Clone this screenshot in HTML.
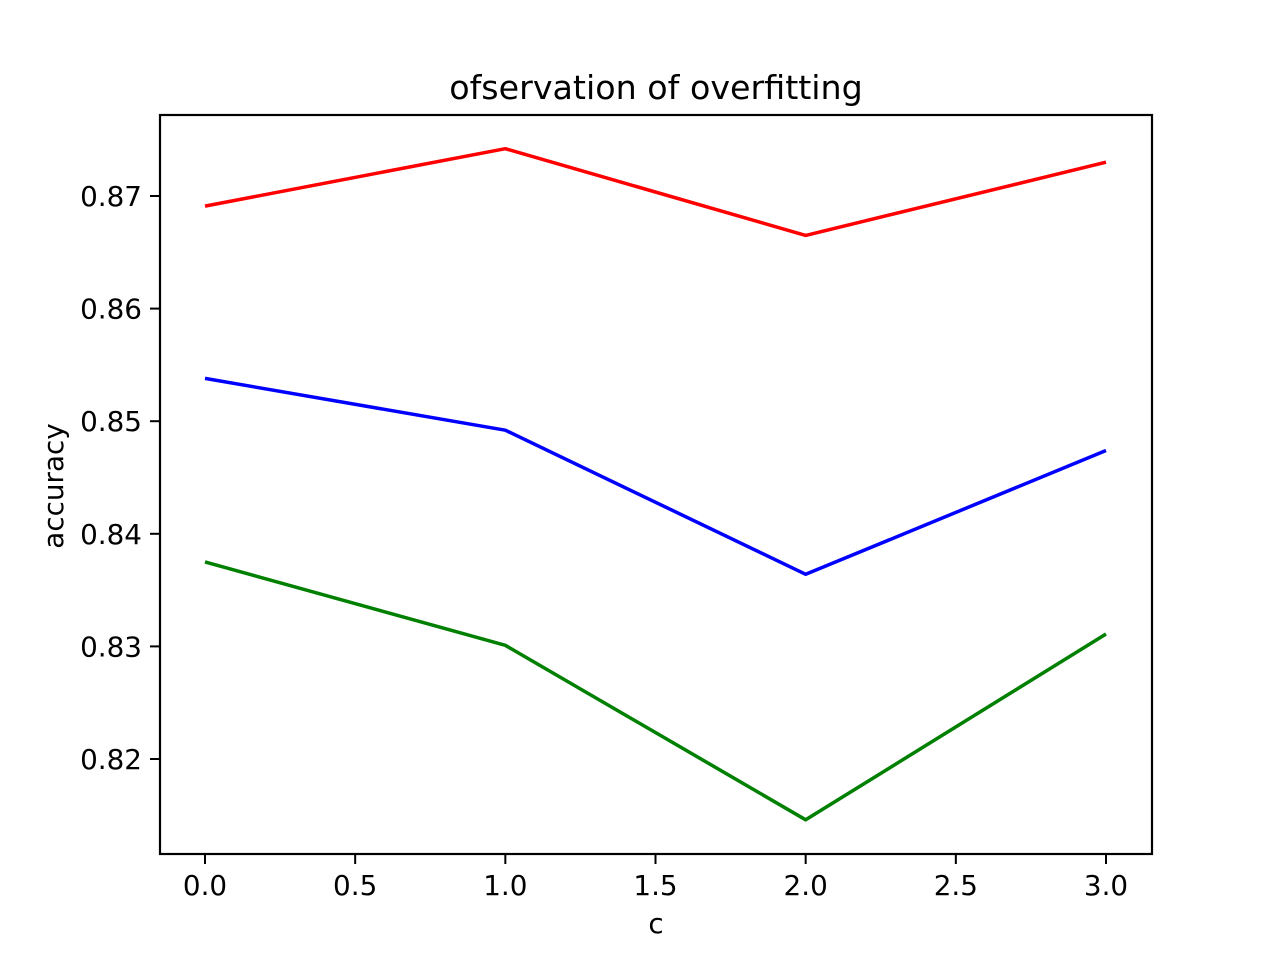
<!DOCTYPE html>
<html><head><meta charset="utf-8"><style>
html,body{margin:0;padding:0;background:#fff;}
svg{display:block;font-family:"DejaVu Sans","Liberation Sans",sans-serif;}
</style></head><body>
<svg id="chart" width="1280" height="960">
<rect width="1280" height="960" fill="#fff"/>
<text x="656" y="99" text-anchor="middle" font-size="33.3">ofservation of overfitting</text>
<text x="656" y="933" text-anchor="middle" font-size="27.8">c</text>
<text transform="translate(63,486) rotate(-90)" text-anchor="middle" font-size="27.8">accuracy</text>
<g id="plot"></g>
<g id="xticks"></g>
<g id="yticks"></g>
<rect x="160" y="115" width="992" height="739" fill="none" stroke="#000" stroke-width="2.2"/>
</svg>
<script>
const xValues = [0, 1, 2, 3];
const redSeries = [0.8691, 0.8742, 0.8665, 0.8730];
const blueSeries = [0.8538, 0.8492, 0.8364, 0.8474];
const greenSeries = [0.8375, 0.8301, 0.8146, 0.8311];
const xTickValues = [0, 0.5, 1, 1.5, 2, 2.5, 3];
const xTickLabels = ["0.0","0.5","1.0","1.5","2.0","2.5","3.0"];
const yTickValues = [0.82, 0.83, 0.84, 0.85, 0.86, 0.87];
const yTickLabels = ["0.82","0.83","0.84","0.85","0.86","0.87"];

const NS = "http://www.w3.org/2000/svg";
function xs(v){ return 205 + v * (1106 - 205) / 3; }
function ys(v){ return 759 - (v - 0.82) * (759 - 196) / 0.05; }
function mk(tag, attrs, parent){
  const e = document.createElementNS(NS, tag);
  for (const k in attrs) e.setAttribute(k, attrs[k]);
  parent.appendChild(e);
  return e;
}
const plot = document.getElementById('plot');
const series = [[redSeries, '#ff0000', 'series-red'], [blueSeries, '#0000ff', 'series-blue'], [greenSeries, '#008000', 'series-green']];
series.forEach(s => {
  const pts = s[0].map((v, i) => xs(xValues[i]).toFixed(1) + ',' + ys(v).toFixed(1)).join(' ');
  const pl = mk('polyline', {points: pts, fill: 'none', stroke: s[1], 'stroke-width': 3.5, 'stroke-linejoin': 'round'}, plot);
  
  
});
const xg = document.getElementById('xticks');
xTickValues.forEach((v, i) => {
  const x = xs(v);
  const l = mk('line', {x1: x, x2: x, y1: 854, y2: 864, stroke: '#000', 'stroke-width': 2}, xg);
  
  
  const t = mk('text', {x: x, y: 895, 'text-anchor': 'middle', 'font-size': 27.8}, xg);
  t.textContent = xTickLabels[i];
  
  
});
const yg = document.getElementById('yticks');
yTickValues.forEach((v, i) => {
  const y = ys(v);
  const l = mk('line', {x1: 150, x2: 160, y1: y, y2: y, stroke: '#000', 'stroke-width': 2}, yg);
  
  
  const t = mk('text', {x: 142, y: y + 10, 'text-anchor': 'end', 'font-size': 27.8}, yg);
  t.textContent = yTickLabels[i];
  
  
});
</script>
</body></html>
